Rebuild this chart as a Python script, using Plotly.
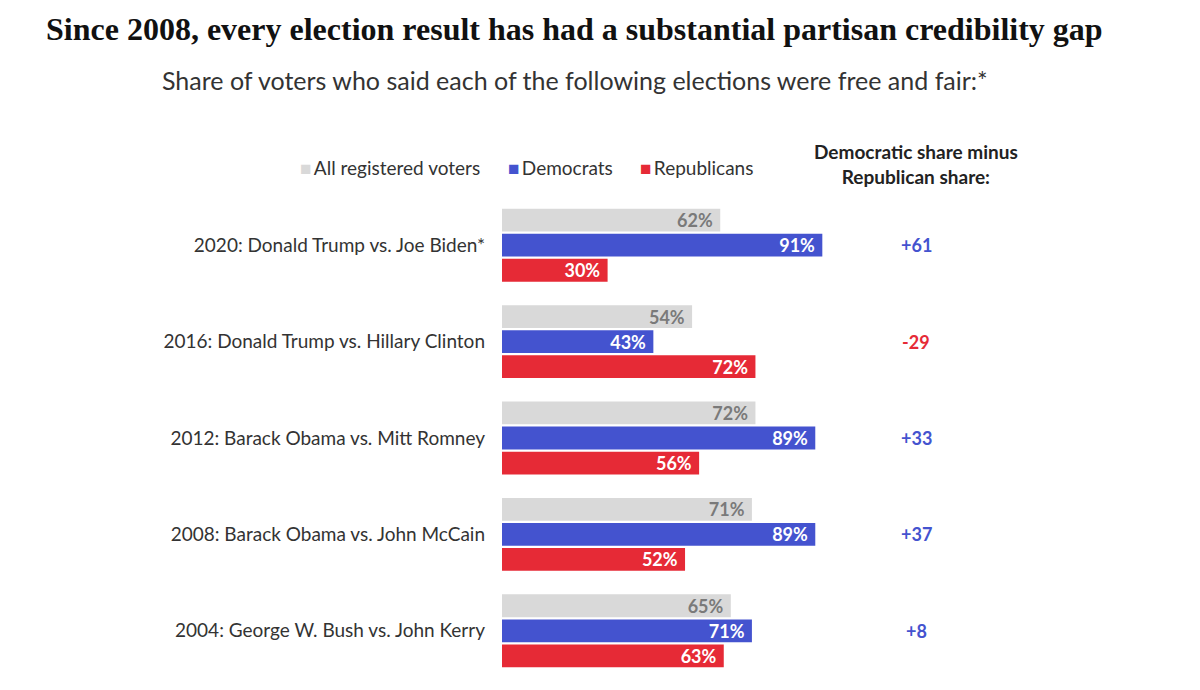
import plotly.graph_objects as go

elections = [
    "2020: Donald Trump vs. Joe Biden*",
    "2016: Donald Trump vs. Hillary Clinton",
    "2012: Barack Obama vs. Mitt Romney",
    "2008: Barack Obama vs. John McCain",
    "2004: George W. Bush vs. John Kerry",
]
all_voters = [62, 54, 72, 71, 65]
democrats = [91, 43, 89, 89, 71]
republicans = [30, 72, 56, 52, 63]

GREY = "#d9d9d9"
BLUE = "#4453cf"
RED = "#e62a36"
FONT = "Lato"
W, H, OFF = 1200, 690, 8


def px(x):
    return (x - OFF) / W


def py(y):
    return 1 - (y - OFF) / H


fig = go.Figure()
series = [
    ("All registered voters", all_voters, GREY, "#7a7a7a"),
    ("Democrats", democrats, BLUE, "white"),
    ("Republicans", republicans, RED, "white"),
]
for name, vals, col, tcol in series:
    fig.add_trace(go.Bar(
        y=elections, x=vals, orientation="h", name=name,
        marker=dict(color=col, line=dict(width=0)),
        text=[f"{v}%\u2005" for v in vals], textposition="inside",
        insidetextanchor="end", constraintext="none", textangle=0,
        textfont=dict(family=FONT, size=18, color=tcol, weight="bold"),
        cliponaxis=False, showlegend=False,
    ))

fig.update_layout(
    width=W, height=H,
    margin=dict(l=0, r=0, t=0, b=0),
    paper_bgcolor="white", plot_bgcolor="white",
    barmode="group", bargap=0.22, bargroupgap=0.09,
    xaxis=dict(domain=[px(502), px(854)], range=[0, 100], visible=False,
               fixedrange=True),
    yaxis=dict(domain=[py(679), py(197)], autorange="reversed",
               showgrid=False, zeroline=False, showline=False,
               ticks="", ticklabelstandoff=16,
               tickfont=dict(family=FONT, size=19, color="#333333")),
    font=dict(family=FONT),
)

annotations = []
annotations.append(dict(
    text="<b>Since 2008, every election result has had a substantial partisan credibility gap</b>",
    x=px(574), y=py(29), xref="paper", yref="paper", showarrow=False,
    xanchor="center", yanchor="middle",
    font=dict(family="Liberation Serif", size=32, color="#111111"),
))
annotations.append(dict(
    text="Share of voters who said each of the following elections were free and fair:*",
    x=px(575), y=py(80), xref="paper", yref="paper", showarrow=False,
    xanchor="center", yanchor="middle",
    font=dict(family=FONT, size=25, color="#333333"),
))
legend_x = [298, 506, 638]
for (name, _, col, _), lx in zip(series, legend_x):
    annotations.append(dict(
        text=f"<span style='color:{col}'>■</span>\u2009{name}",
        x=px(lx), y=py(167), xref="paper", yref="paper", showarrow=False,
        xanchor="left", yanchor="middle",
        font=dict(family=FONT, size=19, color="#333333"),
    ))
annotations.append(dict(
    text="<b>Democratic share minus<br>Republican share:</b>",
    x=px(916), y=py(164), xref="paper", yref="paper", showarrow=False,
    xanchor="center", yanchor="middle", align="center",
    font=dict(family=FONT, size=19, color="#222222"),
))
for e, d, r in zip(elections, democrats, republicans):
    diff = d - r
    annotations.append(dict(
        text=f"<b>{diff:+d}</b>", x=px(916), y=e, xref="paper", yref="y",
        showarrow=False, xanchor="center", yanchor="middle",
        font=dict(family=FONT, size=18, color=BLUE if diff >= 0 else RED),
    ))
fig.update_layout(annotations=annotations)

fig.write_html("out.html")
